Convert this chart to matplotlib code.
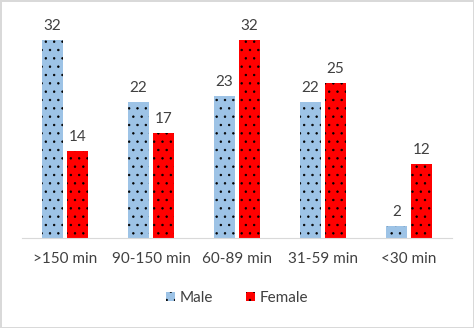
import numpy as np
from matplotlib import pyplot as plt

categories = [">150 min", "90-150 min", "60-89 min", "31-59 min", "<30 min"]
male = [32, 22, 23, 22, 2]
female = [14, 17, 32, 25, 12]

TEXT = "#404040"


def main():
    """grouped bar chart of male/female counts per duration band"""
    plt.rcParams['font.family'] = ['Lato', 'DejaVu Sans']
    plt.rcParams['hatch.linewidth'] = 0.5

    fig = plt.figure(figsize=(4.74, 3.28), dpi=100)
    fig.patch.set_edgecolor('#d9d9d9')
    fig.patch.set_linewidth(2)
    ax = fig.add_axes([22 / 474, 1 - 238 / 328, 430 / 474, 223 / 328])

    x = np.arange(len(categories))
    w = 0.24
    gap = 0.05
    # edgecolor drives the hatch colour; linewidth 0 hides the outline itself
    b1 = ax.bar(x - (w + gap) / 2, male, w, color='#9DC3E6', hatch='..',
                edgecolor='black', linewidth=0, label="Male")
    b2 = ax.bar(x + (w + gap) / 2, female, w, color='#FF0000', hatch='..',
                edgecolor='black', linewidth=0, label="Female")
    for bars in (b1, b2):
        ax.bar_label(bars, padding=5, fontsize=11, color=TEXT)

    ax.set_xlim(-0.5, len(categories) - 0.5)
    ax.set_ylim(0, 36)
    ax.set_xticks(x)
    ax.set_xticklabels(categories, fontsize=11, color=TEXT)
    ax.tick_params(axis='x', length=0, pad=10)
    ax.set_yticks([])
    for side in ('left', 'right', 'top'):
        ax.spines[side].set_visible(False)
    ax.spines['bottom'].set_color('#d9d9d9')

    fig.legend(loc='center', bbox_to_anchor=(0.5, 1 - 298 / 328), ncol=2,
               frameon=False, fontsize=11, labelcolor=TEXT,
               handlelength=0.6, handleheight=0.6, columnspacing=2.2,
               handletextpad=0.3)
    fig.savefig("out.png", dpi=100)


if __name__ == '__main__':
    main()
